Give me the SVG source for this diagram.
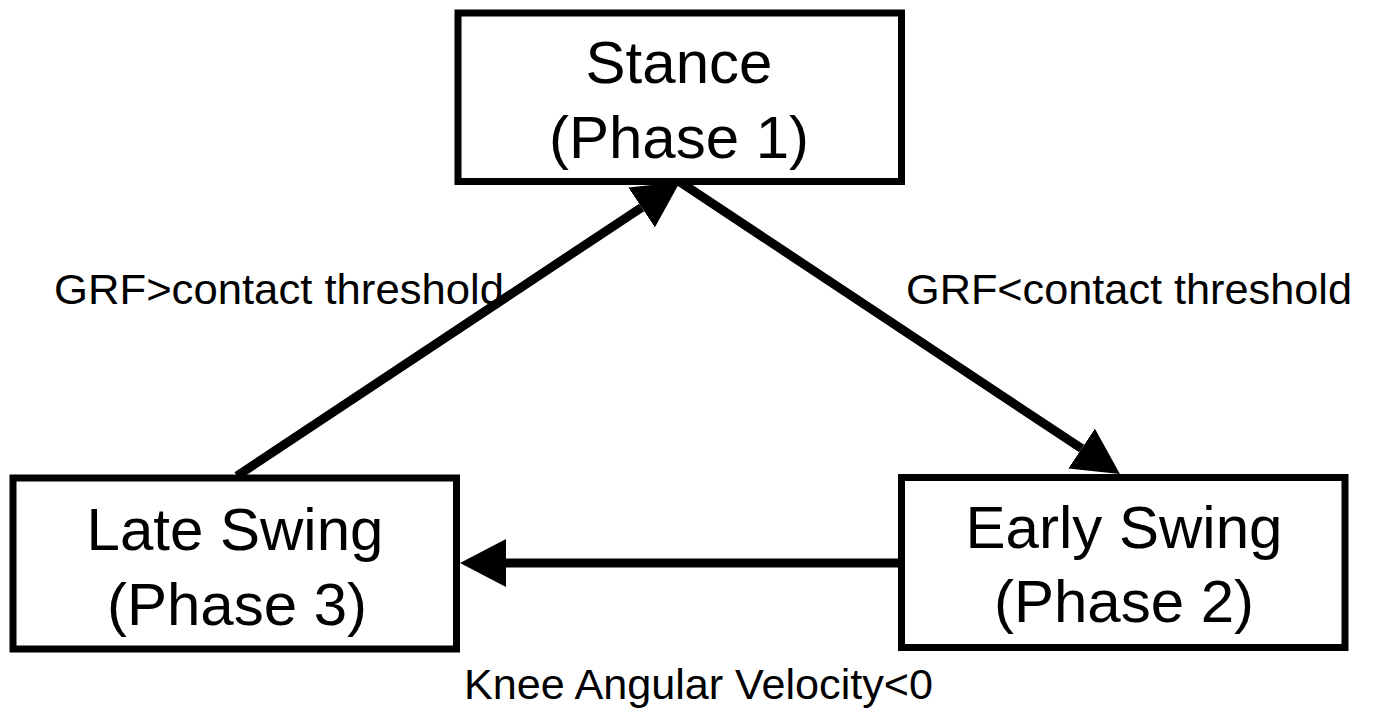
<svg xmlns="http://www.w3.org/2000/svg" width="1373" height="711" viewBox="0 0 1373 711">
<style>
.box{fill:#fff;stroke:#000;stroke-width:7}
.nt{font-family:"Liberation Sans",Arial,sans-serif;font-size:60px;fill:#000;text-anchor:middle}
.lb{font-family:"Liberation Sans",Arial,sans-serif;font-size:43px;fill:#000}
.edge{stroke:#000;stroke-width:9;fill:none;marker-end:url(#ah)}
</style>
<defs>
<marker id="ah" markerUnits="userSpaceOnUse" markerWidth="46" markerHeight="48" viewBox="0 0 46 48" refX="0" refY="24" orient="auto">
<path d="M0,0 L46,24 L0,48 z" fill="#000"/>
</marker>
</defs>
<rect width="1373" height="711" fill="#fff"/>
<g id="connectors">
<line class="edge" x1="237" y1="476" x2="641.6" y2="207.4"/>
<line class="edge" x1="680" y1="182" x2="1081.6" y2="448.6"/>
<line class="edge" x1="898" y1="563" x2="506" y2="563"/>
</g>
<g id="stance">
<rect class="box" x="458" y="13" width="443.5" height="168.5"/>
<text class="nt" x="679" y="83">Stance</text>
<text class="nt" x="679" y="158">(Phase 1)</text>
</g>
<g id="late-swing">
<rect class="box" x="13" y="478" width="443.5" height="171"/>
<text class="nt" x="235" y="550">Late Swing</text>
<text class="nt" x="237" y="625">(Phase 3)</text>
</g>
<g id="early-swing">
<rect class="box" x="901.5" y="477.5" width="443.5" height="170"/>
<text class="nt" x="1124" y="548">Early Swing</text>
<text class="nt" x="1124" y="622">(Phase 2)</text>
</g>
<g id="labels">
<text class="lb" x="54" y="304" textLength="450" lengthAdjust="spacingAndGlyphs">GRF&gt;contact threshold</text>
<text class="lb" x="906" y="304" textLength="446" lengthAdjust="spacingAndGlyphs">GRF&lt;contact threshold</text>
<text class="lb" x="464" y="699" textLength="469" lengthAdjust="spacingAndGlyphs">Knee Angular Velocity&lt;0</text>
</g>
</svg>
